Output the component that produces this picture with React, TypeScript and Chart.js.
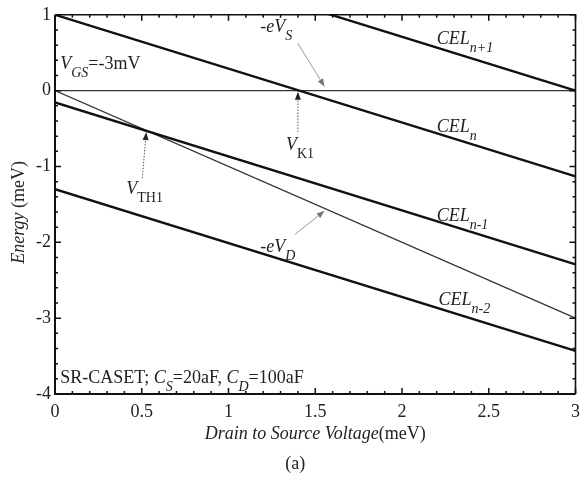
import { useEffect, useRef } from 'react';
import { Chart, registerables } from 'chart.js';

Chart.register(...registerables);

const FONT = '"Liberation Serif", "Times New Roman", serif';

// x endpoints shared by all lines (meV)
const xEnds = [0, 3];
// charging energy levels (meV) at x = 0 and x = 3
const celNp1 = [2.13, 0];
const celN = [1, -1.13];
const celNm1 = [-0.155, -2.29];
const celNm2 = [-1.3, -3.43];
// electrode levels
const eVS = [0, 0];
const eVD = [0, -3];

const xTickValues = [0, 0.5, 1, 1.5, 2, 2.5, 3];
const yTickValues = [1, 0, -1, -2, -3, -4];

type Seg = { t: string; i?: boolean; sub?: boolean };

const labels: { x: number; y: number; segs: Seg[] }[] = [
  { x: 0.03, y: 0.29, segs: [{ t: 'V', i: true }, { t: 'GS', i: true, sub: true }, { t: '=-3mV' }] },
  { x: 1.183, y: 0.77, segs: [{ t: '-eV', i: true }, { t: 'S', i: true, sub: true }] },
  { x: 2.2, y: 0.61, segs: [{ t: 'CEL', i: true }, { t: 'n+1', i: true, sub: true }] },
  { x: 2.2, y: -0.545, segs: [{ t: 'CEL', i: true }, { t: 'n', i: true, sub: true }] },
  { x: 1.331, y: -0.78, segs: [{ t: 'V', i: true }, { t: 'K1', sub: true }] },
  { x: 0.411, y: -1.36, segs: [{ t: 'V', i: true }, { t: 'TH1', sub: true }] },
  { x: 2.2, y: -1.715, segs: [{ t: 'CEL', i: true }, { t: 'n-1', i: true, sub: true }] },
  { x: 1.183, y: -2.13, segs: [{ t: '-eV', i: true }, { t: 'D', i: true, sub: true }] },
  { x: 2.211, y: -2.82, segs: [{ t: 'CEL', i: true }, { t: 'n-2', i: true, sub: true }] },
  {
    x: 0.03,
    y: -3.86,
    segs: [
      { t: 'SR-CASET; ' },
      { t: 'C', i: true },
      { t: 'S', i: true, sub: true },
      { t: '=20aF, ' },
      { t: 'C', i: true },
      { t: 'D', i: true, sub: true },
      { t: '=100aF' },
    ],
  },
];

const arrows: { from: [number, number]; to: [number, number]; dash: boolean }[] = [
  { from: [1.4, 0.623], to: [1.554, 0.052], dash: false },
  { from: [1.4, -0.545], to: [1.4, -0.013], dash: true },
  { from: [0.503, -1.156], to: [0.526, -0.545], dash: true },
  { from: [1.383, -1.896], to: [1.554, -1.584], dash: false },
];

function pts(ys: number[]) {
  return xEnds.map((x, k) => ({ x, y: ys[k] }));
}

function drawRich(ctx: CanvasRenderingContext2D, x: number, y: number, segs: Seg[]) {
  let cx = x;
  ctx.textAlign = 'left';
  ctx.textBaseline = 'alphabetic';
  for (const s of segs) {
    ctx.font = `${s.i ? 'italic ' : ''}${s.sub ? 14 : 18}px ${FONT}`;
    ctx.fillText(s.t, cx, y + (s.sub ? 8 : 0));
    cx += ctx.measureText(s.t).width;
  }
}

function richWidth(ctx: CanvasRenderingContext2D, segs: Seg[]) {
  let w = 0;
  for (const s of segs) {
    ctx.font = `${s.i ? 'italic ' : ''}${s.sub ? 14 : 18}px ${FONT}`;
    w += ctx.measureText(s.t).width;
  }
  return w;
}

const decorPlugin = {
  id: 'decor',
  afterDatasetsDraw(chart: any) {
    const { ctx, chartArea: a, scales } = chart;
    const xs = scales.x;
    const ys = scales.y;
    ctx.save();
    // frame
    ctx.strokeStyle = '#111';
    ctx.lineWidth = 2;
    ctx.beginPath();
    ctx.moveTo(a.left, a.top);
    ctx.lineTo(a.left, a.bottom);
    ctx.lineTo(a.right, a.bottom);
    ctx.stroke();
    ctx.lineWidth = 1.6;
    ctx.beginPath();
    ctx.moveTo(a.left, a.top);
    ctx.lineTo(a.right, a.top);
    ctx.lineTo(a.right, a.bottom);
    ctx.stroke();
    // inward ticks
    ctx.lineWidth = 1.5;
    ctx.beginPath();
    for (let k = 0; k <= 30; k++) {
      const v = k / 10;
      const px = xs.getPixelForValue(v);
      const len = k % 5 === 0 ? 6 : 3;
      ctx.moveTo(px, a.bottom);
      ctx.lineTo(px, a.bottom - len);
      ctx.moveTo(px, a.top);
      ctx.lineTo(px, a.top + len);
    }
    for (let k = 0; k <= 25; k++) {
      const v = -4 + k * 0.2;
      const py = ys.getPixelForValue(v);
      const len = k % 5 === 0 ? 6 : 3;
      ctx.moveTo(a.left, py);
      ctx.lineTo(a.left + len, py);
      ctx.moveTo(a.right, py);
      ctx.lineTo(a.right - len, py);
    }
    ctx.stroke();

    // arrows
    for (const ar of arrows) {
      const x1 = xs.getPixelForValue(ar.from[0]);
      const y1 = ys.getPixelForValue(ar.from[1]);
      const x2 = xs.getPixelForValue(ar.to[0]);
      const y2 = ys.getPixelForValue(ar.to[1]);
      const ang = Math.atan2(y2 - y1, x2 - x1);
      const hl = 8;
      const hw = 3;
      ctx.strokeStyle = ar.dash ? '#555' : '#999';
      ctx.fillStyle = ar.dash ? '#222' : '#777';
      ctx.lineWidth = 1;
      ctx.setLineDash(ar.dash ? [1.5, 1.5] : []);
      ctx.beginPath();
      ctx.moveTo(x1, y1);
      ctx.lineTo(x2 - Math.cos(ang) * hl, y2 - Math.sin(ang) * hl);
      ctx.stroke();
      ctx.setLineDash([]);
      ctx.beginPath();
      ctx.moveTo(x2, y2);
      ctx.lineTo(
        x2 - Math.cos(ang) * hl - Math.sin(ang) * hw,
        y2 - Math.sin(ang) * hl + Math.cos(ang) * hw
      );
      ctx.lineTo(
        x2 - Math.cos(ang) * hl + Math.sin(ang) * hw,
        y2 - Math.sin(ang) * hl - Math.cos(ang) * hw
      );
      ctx.closePath();
      ctx.fill();
    }

    // labels
    ctx.fillStyle = '#222';
    for (const l of labels) {
      drawRich(ctx, xs.getPixelForValue(l.x), ys.getPixelForValue(l.y), l.segs);
    }

    // x title
    const xt: Seg[] = [{ t: 'Drain to Source Voltage', i: true }, { t: '(meV)' }];
    const xw = richWidth(ctx, xt);
    drawRich(ctx, (a.left + a.right) / 2 - xw / 2, a.bottom + 45, xt);

    // caption
    const cap: Seg[] = [{ t: '(a)' }];
    const cw = richWidth(ctx, cap);
    drawRich(ctx, (a.left + a.right) / 2 - 20 - cw / 2, a.bottom + 75, cap);

    // y title
    const yt: Seg[] = [{ t: 'Energy', i: true }, { t: ' (meV)' }];
    const yw = richWidth(ctx, yt);
    ctx.save();
    ctx.translate(24, (a.top + a.bottom) / 2 + 8);
    ctx.rotate(-Math.PI / 2);
    drawRich(ctx, -yw / 2, 0, yt);
    ctx.restore();

    ctx.restore();
  },
};

export default function App() {
  const ref = useRef<HTMLCanvasElement>(null);

  useEffect(() => {
    if (!ref.current) return;
    const thick = { borderColor: '#111', borderWidth: 2.4 };
    const thin = { borderColor: '#333', borderWidth: 1.2 };
    const chart = new Chart(ref.current, {
      type: 'line',
      data: {
        datasets: [
          { label: 'CELn+1', data: pts(celNp1), ...thick },
          { label: 'CELn', data: pts(celN), ...thick },
          { label: 'CELn-1', data: pts(celNm1), ...thick },
          { label: 'CELn-2', data: pts(celNm2), ...thick },
          { label: '-eVS', data: pts(eVS), ...thin },
          { label: '-eVD', data: pts(eVD), ...thin },
        ].map((d) => ({ ...d, pointRadius: 0, fill: false, tension: 0, clip: 0 })) as any,
      },
      options: {
        responsive: false,
        animation: false,
        layout: { padding: { left: 0, top: 9, right: 7, bottom: 0 } },
        plugins: { legend: { display: false }, tooltip: { enabled: false } },
        scales: {
          x: {
            type: 'linear',
            min: 0,
            max: 3,
            afterBuildTicks: (s: any) => {
              s.ticks = xTickValues.map((v) => ({ value: v }));
            },
            afterFit: (s: any) => {
              s.height = 88;
            },
            grid: { display: false, drawTicks: false },
            border: { display: false },
            ticks: {
              padding: 7,
              color: '#222',
              font: { family: FONT, size: 18 },
              maxRotation: 0,
              autoSkip: false,
              callback: (v: any) => String(v),
            },
          },
          y: {
            type: 'linear',
            min: -4,
            max: 1,
            afterBuildTicks: (s: any) => {
              s.ticks = yTickValues.map((v) => ({ value: v }));
            },
            afterFit: (s: any) => {
              s.width = 55;
            },
            grid: { display: false, drawTicks: false },
            border: { display: false },
            ticks: {
              padding: 4,
              color: '#222',
              font: { family: FONT, size: 18 },
              autoSkip: false,
              callback: (v: any) => String(v),
            },
          },
        },
      },
      plugins: [decorPlugin],
    });
    return () => chart.destroy();
  }, []);

  return (
    <div style={{ position: 'fixed', left: 0, top: 0, width: 587, height: 482, background: '#fff' }}>
      <canvas ref={ref} width={587} height={482} style={{ width: 587, height: 482 }} />
    </div>
  );
}
